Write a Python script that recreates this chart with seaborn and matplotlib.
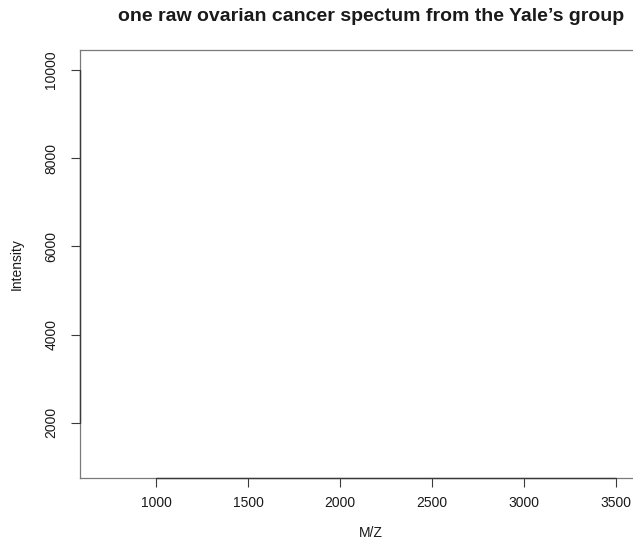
import matplotlib
matplotlib.use("Agg")
import matplotlib.pyplot as plt
import seaborn as sns
import pandas as pd

# Spectrum data (no points are plotted in this frame)
mz = []
intensity = []

x_ticks = [1000, 1500, 2000, 2500, 3000, 3500]
y_ticks = [2000, 4000, 6000, 8000, 10000]
x_limits = (587, 3750)
y_limits = (750, 10455)

title = "one raw ovarian cancer spectum from the Yale\u2019s group"
x_label = "M/Z"
y_label = "Intensity"

sns.set_theme(style="white")
plt.rcParams["font.family"] = ["Liberation Sans", "DejaVu Sans"]

fig = plt.figure(figsize=(6.33, 5.39), dpi=100)
ax = fig.add_axes([80 / 633, 61.3 / 539, 582 / 633, 427.6 / 539])

df = pd.DataFrame({"mz": pd.Series(mz, dtype=float),
                   "intensity": pd.Series(intensity, dtype=float)})
sns.lineplot(data=df, x="mz", y="intensity", ax=ax, color="black", linewidth=0.6)

ax.set_xlim(*x_limits)
ax.set_ylim(*y_limits)
ax.set_xticks(x_ticks)
ax.set_yticks(y_ticks)
ax.set_xticklabels([str(v) for v in x_ticks])
ax.set_yticklabels([str(v) for v in y_ticks], rotation=90, va="center")

for s in ax.spines.values():
    s.set_color("#7a7a7a")
    s.set_linewidth(0.9)
    s.set_visible(True)

# Axis lines spanning the tick range
ax.plot([x_ticks[0], x_ticks[-1]], [y_limits[0], y_limits[0]], color="#3a3a3a",
        lw=1.0, clip_on=False, zorder=5)
ax.plot([x_limits[0], x_limits[0]], [y_ticks[0], y_ticks[-1]], color="#3a3a3a",
        lw=1.0, clip_on=False, zorder=5)

ax.tick_params(axis="both", which="major", direction="out", length=6.5, width=0.8,
               color="#3a3a3a", labelsize=10, labelcolor="#1a1a1a",
               bottom=True, left=True)
ax.tick_params(axis="x", pad=7)
ax.tick_params(axis="y", pad=9)

ax.set_xlabel(x_label, fontsize=10, color="#1a1a1a", labelpad=11)
ax.set_ylabel(y_label, fontsize=10, color="#1a1a1a", labelpad=15)
ax.set_title(title, fontsize=14, fontweight="bold", color="#1a1a1a", pad=21)
ax.grid(False)

fig.savefig("out.png", dpi=100)
